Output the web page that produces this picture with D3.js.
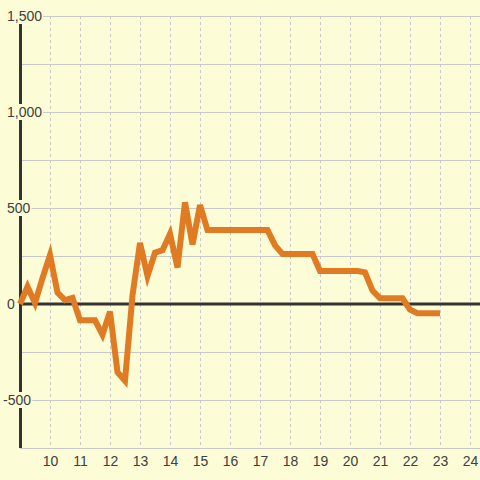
<!DOCTYPE html>
<html>
<head>
<meta charset="utf-8">
<script src="https://cdn.jsdelivr.net/npm/d3@7"></script>
<style>
  html, body { margin: 0; padding: 0; background: #fcfcd6; }
  svg { display: block; }
  text { font-family: "Liberation Sans", Arial, sans-serif; font-size: 14px; fill: #404040; }
</style>
</head>
<body>
<svg id="chart" width="480" height="480"></svg>
<script>
const times = [9.00, 9.25, 9.50, 9.75, 10.00, 10.25, 10.50, 10.75, 11.00, 11.25, 11.50, 11.75,
  12.00, 12.25, 12.50, 12.75, 13.00, 13.25, 13.50, 13.75, 14.00, 14.25, 14.50, 14.75,
  15.00, 15.25, 15.50, 15.75, 16.00, 16.25, 16.50, 16.75, 17.00, 17.25, 17.50, 17.75,
  18.00, 18.25, 18.50, 18.75, 19.00, 19.25, 19.50, 19.75, 20.00, 20.25, 20.50, 20.75,
  21.00, 21.25, 21.50, 21.75, 22.00, 22.25, 22.50, 22.75, 23.00];
const values = [0, 90, 5, 135, 255, 60, 20, 32, -85, -85, -85, -160,
  -40, -355, -400, 45, 318, 145, 268, 280, 365, 190, 530, 310,
  515, 385, 385, 385, 385, 385, 385, 385, 385, 385, 305, 260,
  260, 260, 260, 260, 172, 172, 172, 172, 172, 172, 165, 70,
  30, 30, 30, 30, -30, -48, -48, -48, -48];
const xTicks = [10, 11, 12, 13, 14, 15, 16, 17, 18, 19, 20, 21, 22, 23, 24];
const yTicks = [-750, -500, -250, 0, 250, 500, 750, 1000, 1250, 1500];
const yLabelTicks = [-500, 0, 500, 1000, 1500];

(function () {
const W = 480, H = 480;
const padL = 20, padT = 16, padB = 448;
const x = d3.scaleLinear().domain([9, 24]).range([padL, 470]);
const y = d3.scaleLinear().domain([-750, 1500]).range([padB, padT]);

const svg = d3.select("#chart");
svg.append("rect").attr("width", W).attr("height", H).attr("fill", "#fcfcd6");

// vertical dashed grid
svg.append("g").selectAll("line").data(xTicks).join("line")
  .attr("x1", d => Math.round(x(d)) + 0.5).attr("x2", d => Math.round(x(d)) + 0.5)
  .attr("y1", padT).attr("y2", padB)
  .attr("stroke", "#c8c8c8").attr("stroke-width", 1).attr("stroke-dasharray", "3,3");

// horizontal grid
svg.append("g").selectAll("line").data(yTicks.filter(d => d !== 0)).join("line")
  .attr("x1", padL).attr("x2", W)
  .attr("y1", d => Math.round(y(d)) + 0.5).attr("y2", d => Math.round(y(d)) + 0.5)
  .attr("stroke", "#c8c8c8").attr("stroke-width", 1);

// zero line
svg.append("line").attr("x1", padL).attr("x2", W)
  .attr("y1", y(0)).attr("y2", y(0))
  .attr("stroke", "#333").attr("stroke-width", 3);

// y axis line
svg.append("line").attr("x1", padL + 0.5).attr("x2", padL + 0.5)
  .attr("y1", padT).attr("y2", padB)
  .attr("stroke", "#333").attr("stroke-width", 3);

// data line
const pts = times.map((t, i) => [t, values[i]]);
svg.append("path").datum(pts)
  .attr("fill", "none").attr("stroke", "#e07b24").attr("stroke-width", 6)
  .attr("stroke-linejoin", "miter").attr("stroke-linecap", "butt")
  .attr("d", d3.line().x(d => x(d[0])).y(d => y(d[1])));

// x axis labels
const xa = svg.append("g").attr("transform", `translate(0,${padB + 18})`)
  .call(d3.axisBottom(x).tickValues(xTicks).tickSize(0).tickFormat(d3.format("d")));
xa.select(".domain").remove();
xa.selectAll("text").attr("dy", 0).attr("y", 0)
  .style("font-family", "'Liberation Sans', Arial, sans-serif").style("font-size", "14px").attr("fill", "#404040");

// y axis labels with background boxes
const fmt = d3.format(",");
const yl = svg.append("g");
yLabelTicks.forEach(v => {
  const g = yl.append("g");
  const rect = g.append("rect").attr("fill", "#fcfcd6");
  const t = g.append("text")
    .attr("x", v < 0 ? 3 : 7)
    .attr("y", y(v) + 5)
    .text(fmt(v).replace("\u2212", "-"));
  const b = t.node().getBBox();
  rect.attr("x", b.x - 2).attr("y", b.y).attr("width", b.width + 3).attr("height", b.height);
});
})();
</script>
</body>
</html>
